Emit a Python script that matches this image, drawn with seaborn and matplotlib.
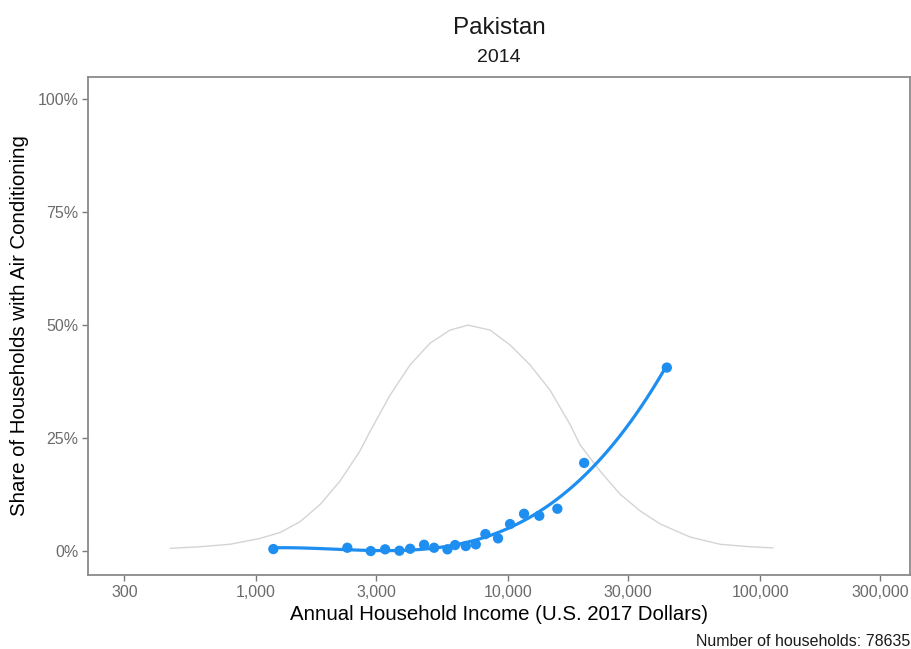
#!/usr/bin/env python3
# -*- coding: utf-8 -*-

"""
Share of households with air conditioning by annual household income,
Pakistan 2014. Points are income bins, the blue line a polynomial fit in
log income, the grey curve the (scaled) income distribution.
"""

import numpy as np
import pandas as pd
import matplotlib
matplotlib.use("Agg")
import matplotlib.pyplot as plt
import seaborn as sns

# Values
income_bins = [1171, 2302, 2851, 3252, 3705, 4087, 4642, 5086, 5746, 6163,
               6797, 7444, 8128, 9124, 10182, 11572, 13300, 15690, 20040, 42660]
ac_share = [0.44, 0.73, 0.0, 0.38, 0.07, 0.51, 1.39, 0.73, 0.38, 1.33,
            1.11, 1.48, 3.76, 2.81, 5.97, 8.25, 7.81, 9.36, 19.5, 40.6]

# Income distribution curve (scaled so the peak sits at 50%)
dist_income = [456, 600, 788, 1037, 1245, 1495, 1795, 2154, 2587, 2835,
               3402, 4084, 4903, 5888, 6938, 8483, 10183, 12224, 14678,
               17620, 19307, 23180, 27820, 33400, 40110, 52760, 69380,
               91270, 112630]
dist_share = [0.6, 0.95, 1.5, 2.8, 4.1, 6.5, 10.3, 15.5, 22.2, 26.5,
              34.5, 41.2, 46.0, 48.9, 50.0, 48.9, 45.6, 41.2, 35.6,
              28.0, 23.5, 17.7, 12.6, 8.9, 6.0, 3.1, 1.5,
              0.95, 0.7]

x_ticks = [300, 1000, 3000, 10000, 30000, 100000, 300000]
x_tick_labels = ["300", "1,000", "3,000", "10,000", "30,000", "100,000", "300,000"]
y_ticks = [0, 25, 50, 75, 100]
y_tick_labels = ["0%", "25%", "50%", "75%", "100%"]

country = "Pakistan"
year = "2014"
n_households = 78635

BLUE = "#1E8FF0"
GREY_TEXT = "#6b6b6b"


def make_plot(out_file: str) -> None:
    """Draws the chart and saves it."""
    sns.set_theme(style="white")
    plt.rcParams["font.family"] = ["Liberation Sans", "DejaVu Sans"]

    fig = plt.figure(figsize=(9.12, 6.49), dpi=100)
    ax = fig.add_axes([88 / 912, 1 - 575 / 649, 822 / 912, 498 / 649])

    # grey income distribution, drawn in log10 space
    df_dist = pd.DataFrame({"log_income": np.log10(dist_income),
                            "share": dist_share})
    sns.lineplot(data=df_dist, x="log_income", y="share", ax=ax,
                 color="#d4d4d4", linewidth=1.0, zorder=1)

    # points plus cubic fit in log income
    df_pts = pd.DataFrame({"log_income": np.log10(income_bins),
                           "share": ac_share})
    sns.regplot(data=df_pts, x="log_income", y="share", ax=ax, order=3,
                ci=None, color=BLUE,
                scatter_kws=dict(s=55, edgecolor="none", alpha=1, zorder=3),
                line_kws=dict(linewidth=2.3, zorder=2))

    ax.set_xlim(2.333, 5.595)
    ax.set_ylim(-5.3, 104.9)
    ax.set_xticks(np.log10(x_ticks))
    ax.set_xticklabels(x_tick_labels)
    ax.set_yticks(y_ticks)
    ax.set_yticklabels(y_tick_labels)

    ax.tick_params(axis="both", which="major", direction="out", length=4,
                   width=1, color="#7a7a7a", labelsize=11.5,
                   labelcolor=GREY_TEXT, pad=3, bottom=True, left=True)
    for spine in ax.spines.values():
        spine.set_color("#8a8a8a")
        spine.set_linewidth(1.3)

    ax.set_xlabel("Annual Household Income (U.S. 2017 Dollars)",
                  fontsize=14.7, color="black", labelpad=4)
    ax.set_ylabel("Share of Households with Air Conditioning",
                  fontsize=14.7, color="black", labelpad=6)

    # titles and caption
    cx = (88 + 910) / 2 / 912
    fig.text(cx, 1 - 28 / 649, country, ha="center", va="center",
             fontsize=17.5, color="#1a1a1a")
    fig.text(cx, 1 - 57 / 649, year, ha="center", va="center",
             fontsize=14, color="#1a1a1a")
    fig.text(910 / 912, 1 - 641 / 649, f"Number of households: {n_households}",
             ha="right", va="center", fontsize=11.5, color="#1a1a1a")

    fig.savefig(out_file, dpi=100)
    plt.close(fig)


def main():
    make_plot("out.png")


if __name__ == "__main__":
    main()
